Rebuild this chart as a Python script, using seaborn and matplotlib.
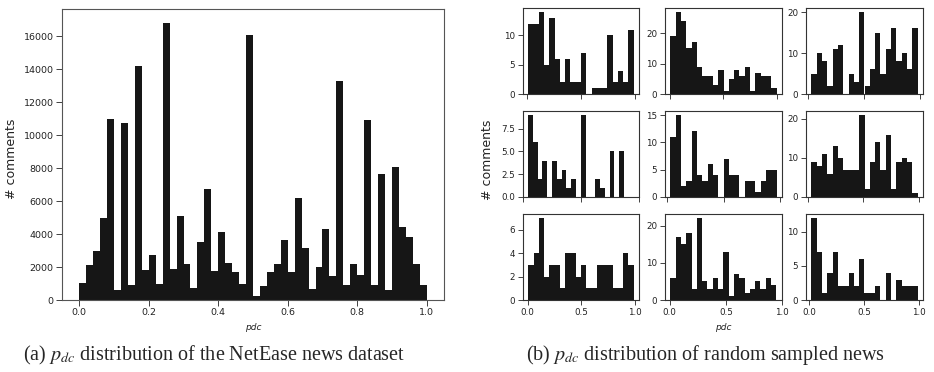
import numpy as np
import pandas as pd
import matplotlib
matplotlib.use("Agg")
import matplotlib.pyplot as plt
from matplotlib.ticker import MaxNLocator
import seaborn as sns

sns.set_style("ticks")
plt.rcParams['font.family'] = ['DejaVu Sans']
plt.rcParams['mathtext.fontset'] = 'stix'

# ---- data: (a) whole NetEase dataset, 50 bins on [0, 1]
full_range = (0.0, 1.0)
full_counts = [1050, 2100, 3000, 5000, 11000, 600, 10700, 900, 14200, 1800,
               2750, 1000, 16800, 1850, 5100, 2200, 750, 3500, 6750, 1750,
               4100, 2250, 1720, 1000, 16040, 220, 870, 1720, 2200, 3660,
               1680, 6210, 3135, 690, 1980, 4330, 1440, 13250, 890, 2200,
               1540, 10940, 930, 7625, 630, 8090, 4450, 3840, 2200, 930]
full_xticks = [0.0, 0.2, 0.4, 0.6, 0.8, 1.0]
full_yticks = [0, 2000, 4000, 6000, 8000, 10000, 12000, 14000, 16000]

# ---- data: (b) nine random sampled news, 20 bins each (row-major)
sample_ranges = [(0.01, 0.985), (0.005, 1.0), (0.03, 0.98),
                 (0.044, 0.87), (0.029, 0.968), (0.03, 0.99),
                 (0.006, 0.985), (0.006, 0.95), (0.02, 0.985)]
sample_counts = [
    [12, 12, 14, 5, 13, 6, 2, 6, 2, 2, 7, 0, 1, 1, 1, 10, 2, 4, 2, 11],
    [19, 27, 24, 15, 17, 9, 6, 6, 3, 8, 1, 5, 8, 6, 9, 1, 7, 6, 6, 2],
    [5, 10, 8, 2, 11, 12, 0, 5, 3, 20, 2, 6, 15, 5, 11, 16, 8, 10, 6, 16],
    [9, 6, 2, 4, 0, 4, 2, 3, 1, 2, 0, 9, 0, 0, 2, 1, 0, 5, 0, 5],
    [11, 15, 2, 3, 12, 4, 3, 6, 4, 0, 7, 4, 4, 0, 3, 3, 1, 3, 5, 5],
    [9, 8, 11, 6, 13, 10, 7, 7, 7, 21, 2, 9, 14, 7, 16, 2, 9, 10, 9, 1],
    [3, 4, 7, 2, 3, 3, 1, 4, 4, 2, 3, 1, 1, 3, 3, 3, 1, 1, 4, 3],
    [6, 17, 15, 18, 3, 22, 5, 3, 6, 3, 13, 1, 7, 6, 2, 3, 5, 3, 6, 4],
    [12, 7, 1, 4, 7, 2, 2, 4, 2, 6, 1, 1, 2, 0, 4, 0, 3, 2, 2, 2],
]
sample_xticks = [0.0, 0.5, 1.0]

x_label = "pdc"
y_label = "# comments"
caption_a = r"(a) $p_{dc}$ distribution of the NetEase news dataset"
caption_b = r"(b) $p_{dc}$ distribution of random sampled news"

BAR = "#161616"
TXT = "#222222"
W, H = 934, 372
fig = plt.figure(figsize=(W / 100, H / 100), dpi=100)


def rect(l, t, r, b):
    return [l / W, 1 - b / H, (r - l) / W, (b - t) / H]


def draw_hist(ax, lo, hi, counts):
    n = len(counts)
    step = (hi - lo) / n
    centers = [lo + step * (i + 0.5) for i in range(n)]
    df = pd.DataFrame({"x": centers, "w": counts})
    sns.histplot(data=df, x="x", weights="w", bins=n, binrange=(lo, hi),
                 ax=ax, color=BAR, alpha=1, linewidth=0, edgecolor=BAR)
    ax.set_xlabel("")
    ax.set_ylabel("")


# ---- left chart
axL = fig.add_axes(rect(62, 9, 444, 300))
draw_hist(axL, full_range[0], full_range[1], full_counts)
axL.set_xticks(full_xticks)
axL.set_yticks(full_yticks)
axL.tick_params(labelsize=6.8, length=4, width=0.6, pad=2, colors=TXT)
for s in axL.spines.values():
    s.set_color("#555555")
    s.set_linewidth(0.8)
fig.text(253 / W, 1 - 327 / H, x_label, fontsize=6.5, style="italic",
         ha="center", va="center", color=TXT)
fig.text(12 / W, 1 - 159 / H, y_label, fontsize=9, rotation=90,
         ha="center", va="center", color=TXT)

# ---- right grid
col_l = [523, 665, 806]
col_r = [639, 782, 923]
row_t = [8, 111, 214]
row_b = [94, 197, 300]
for i in range(3):
    for j in range(3):
        k = i * 3 + j
        ax = fig.add_axes(rect(col_l[j], row_t[i], col_r[j], row_b[i]))
        lo, hi = sample_ranges[k]
        draw_hist(ax, lo, hi, sample_counts[k])
        ax.set_xticks(sample_xticks)
        ax.yaxis.set_major_locator(MaxNLocator(nbins=4, steps=[1, 2, 2.5, 5, 10]))
        if i < 2:
            ax.set_xticklabels([])
        ax.tick_params(labelsize=6.3, length=3.5, width=0.6, pad=2, colors=TXT)
        for s in ax.spines.values():
            s.set_color("#333333")
            s.set_linewidth(0.8)

fig.text(723 / W, 1 - 327 / H, x_label, fontsize=6.5, style="italic",
         ha="center", va="center", color=TXT)
fig.text(487 / W, 1 - 160 / H, y_label, fontsize=9, rotation=90,
         ha="center", va="center", color=TXT)

# ---- captions
fig.text(214 / W, 1 - 355 / H, caption_a, fontsize=14.5,
         family="Liberation Serif", ha="center", va="center")
fig.text(705 / W, 1 - 355 / H, caption_b, fontsize=14.5,
         family="Liberation Serif", ha="center", va="center")

fig.savefig("out.png", dpi=100)
